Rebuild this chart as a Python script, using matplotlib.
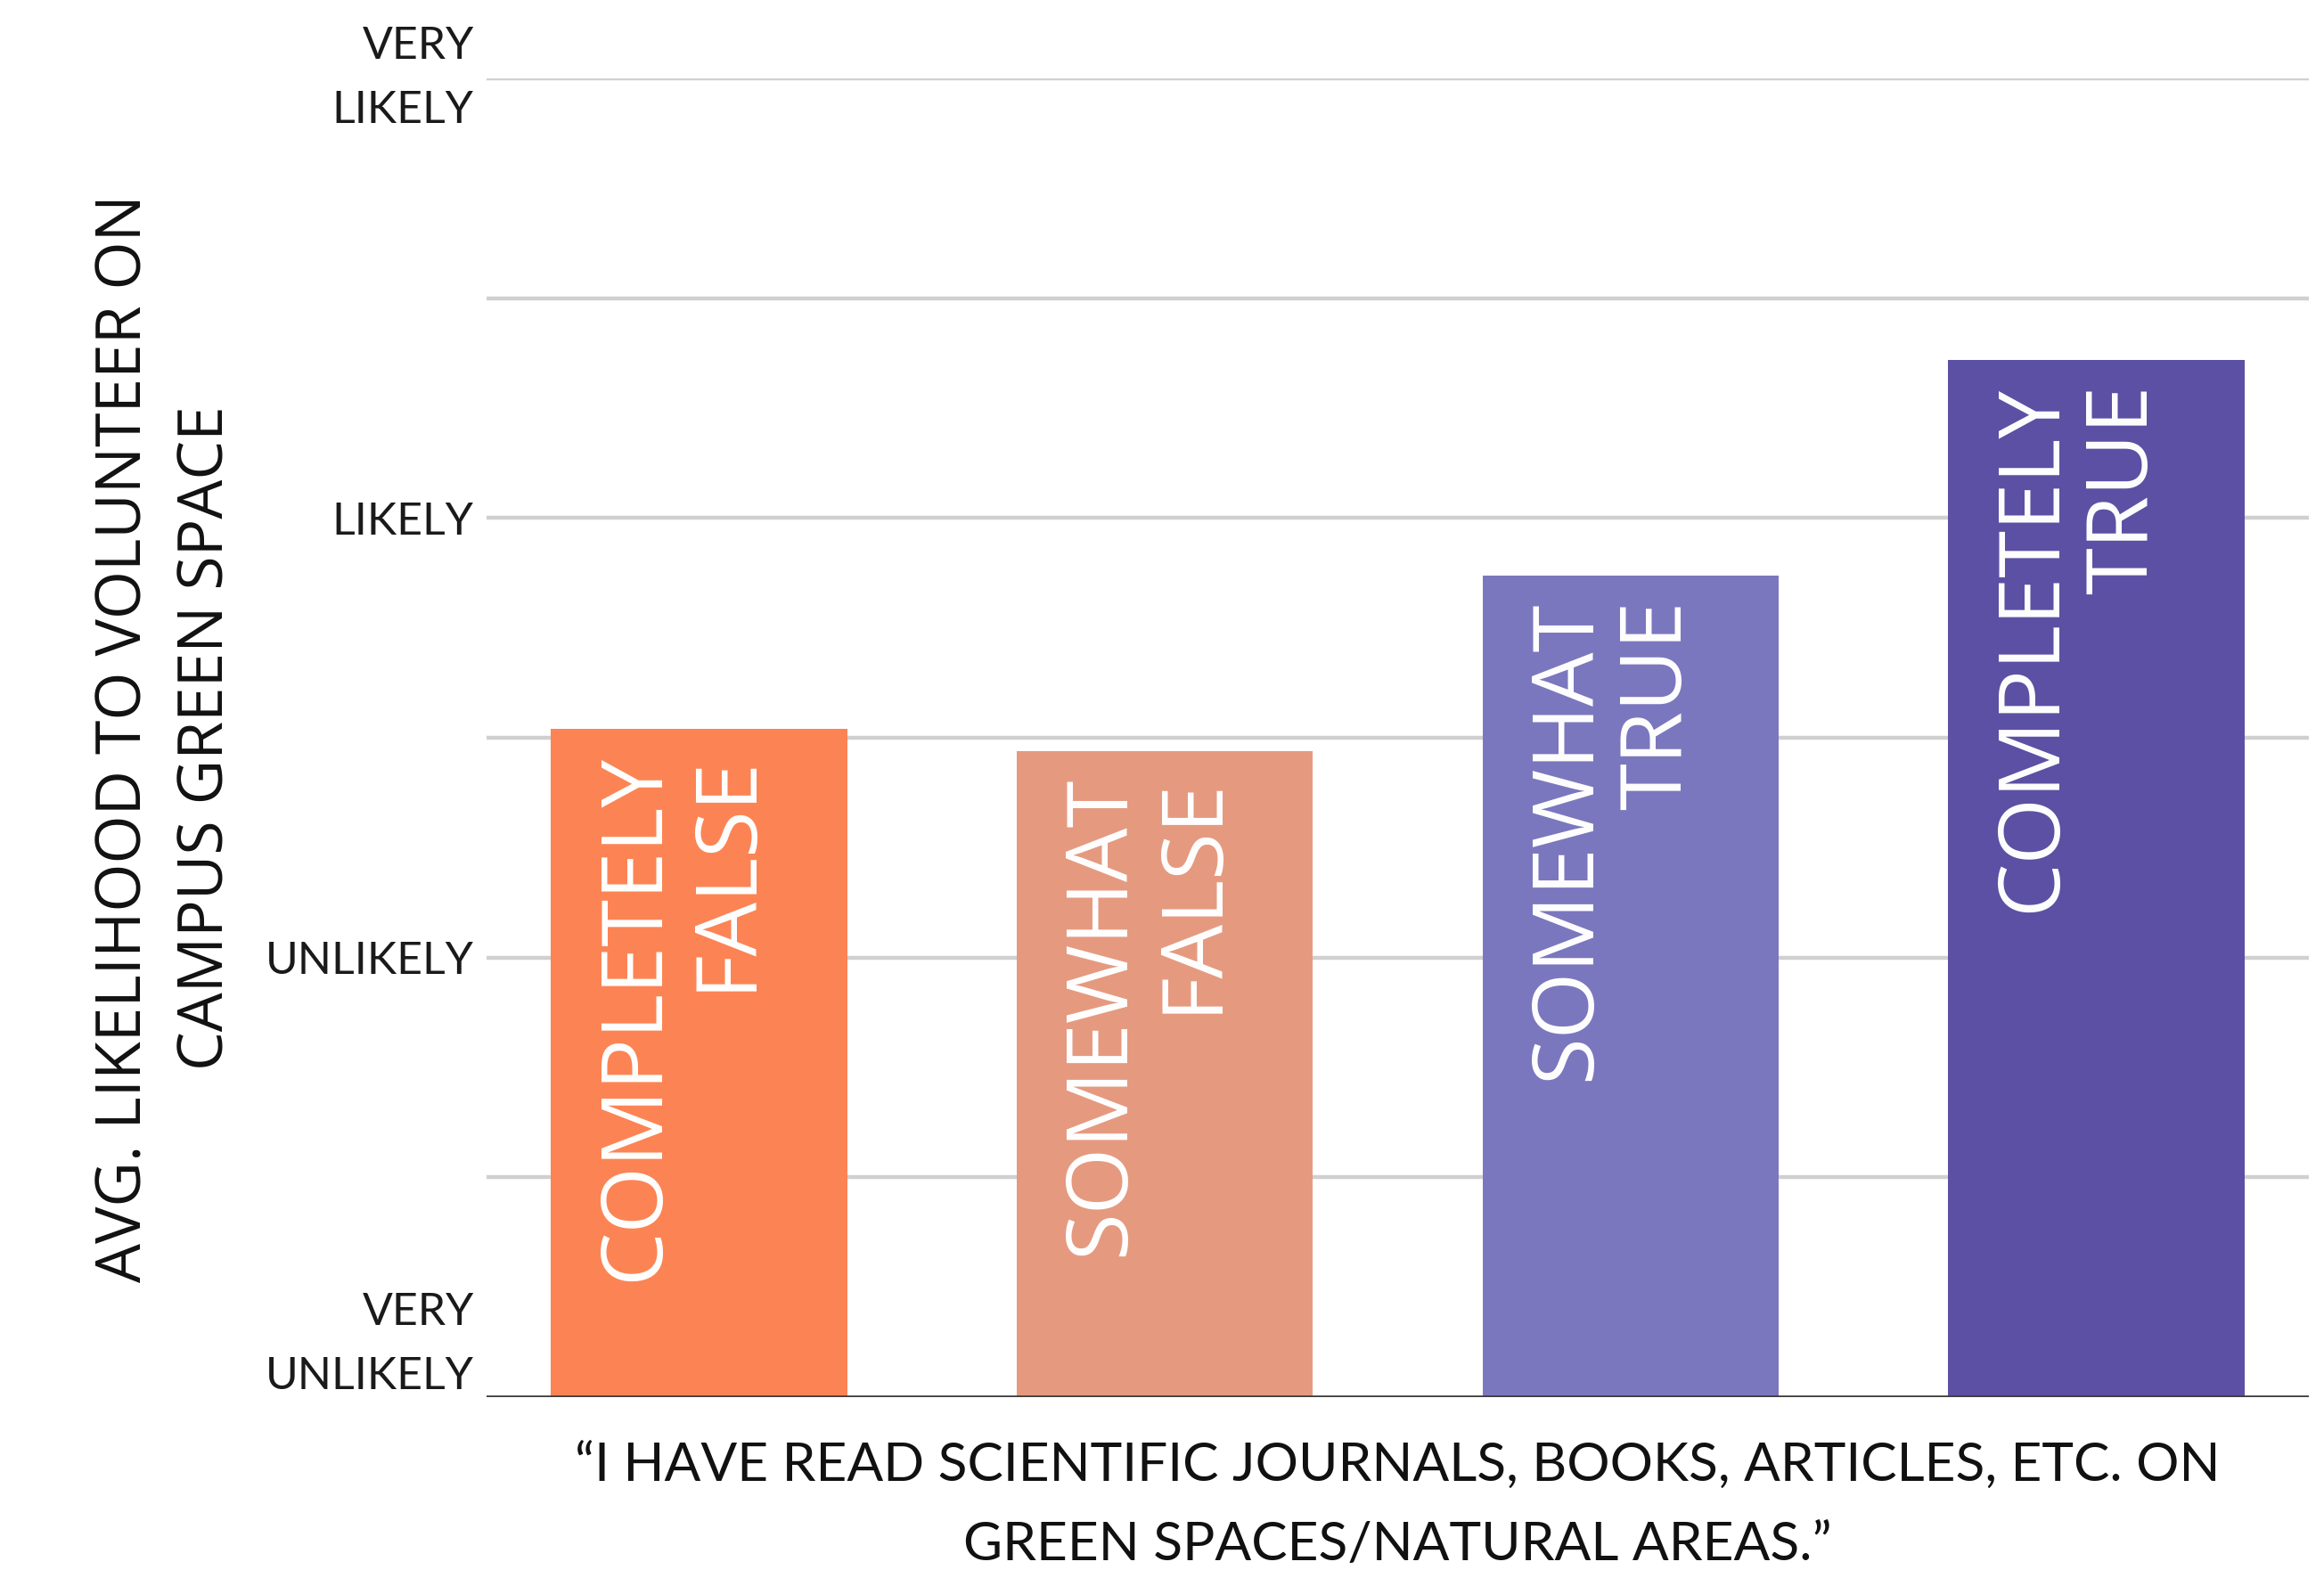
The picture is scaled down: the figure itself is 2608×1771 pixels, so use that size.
import matplotlib
matplotlib.use("Agg")
import matplotlib.pyplot as plt
import numpy as np

categories = ["COMPLETELY\nFALSE", "SOMEWHAT\nFALSE", "SOMEWHAT\nTRUE", "COMPLETELY\nTRUE"]
values = [2.52, 2.47, 2.87, 3.36]
colors = ["#FC8454", "#E59A80", "#7B77BE", "#5C50A4"]
tick_vals = [1, 2, 3, 4]
tick_labels = ["VERY\nUNLIKELY", "UNLIKELY", "LIKELY", "VERY\nLIKELY"]
grid_vals = [1.5, 2.5, 3.5]

narrow = "Lato"
wide = "Open Sans"

fig = plt.figure(figsize=(26.08, 17.71), dpi=100)
ax = fig.add_axes([0.2092, 0.1146, 0.7844, 0.8356])

x = np.arange(len(categories))
ax.bar(x, values, width=0.636, color=colors, zorder=3)

ax.set_xlim(-0.4566, len(categories) - 1 + 0.4566)
ax.set_ylim(1, 4)

# gridlines
for v in tick_vals[1:] + grid_vals:
    ax.axhline(v, color="#D0D0D0", lw=3.2, zorder=1)
ax.axhline(1, color="#3C3C3C", lw=2.6, zorder=4)

for s in ax.spines.values():
    s.set_visible(False)
ax.set_xticks([])
ax.set_yticks(tick_vals)
ax.set_yticklabels(tick_labels, family=narrow, fontsize=36, color="#1a1a1a",
                   linespacing=1.7)
ax.tick_params(axis="y", length=0, pad=10)
lbls = ax.get_yticklabels()
lbls[0].set_va("bottom")
lbls[-1].set_va("center")

# labels inside bars
for xi, v, lab in zip(x, values, categories):
    ax.annotate(lab, xy=(xi, v), xytext=(-14, -20), textcoords="offset points",
                rotation=90, ha="center", va="top", multialignment="right",
                color="white", family=wide, fontsize=69, linespacing=1.1,
                zorder=5)

ax.set_ylabel("AVG. LIKELIHOOD TO VOLUNTEER ON\nCAMPUS GREEN SPACE",
              family=wide, fontsize=50, color="#111111", labelpad=22,
              linespacing=1.42)
ax.set_xlabel("\u201cI HAVE READ SCIENTIFIC JOURNALS, BOOKS, ARTICLES, ETC. ON\nGREEN SPACES/NATURAL AREAS.\u201d",
              family=narrow, fontsize=43.5, color="#111111", labelpad=36,
              linespacing=1.78)

fig.savefig("out.png", dpi=100, facecolor="white")
